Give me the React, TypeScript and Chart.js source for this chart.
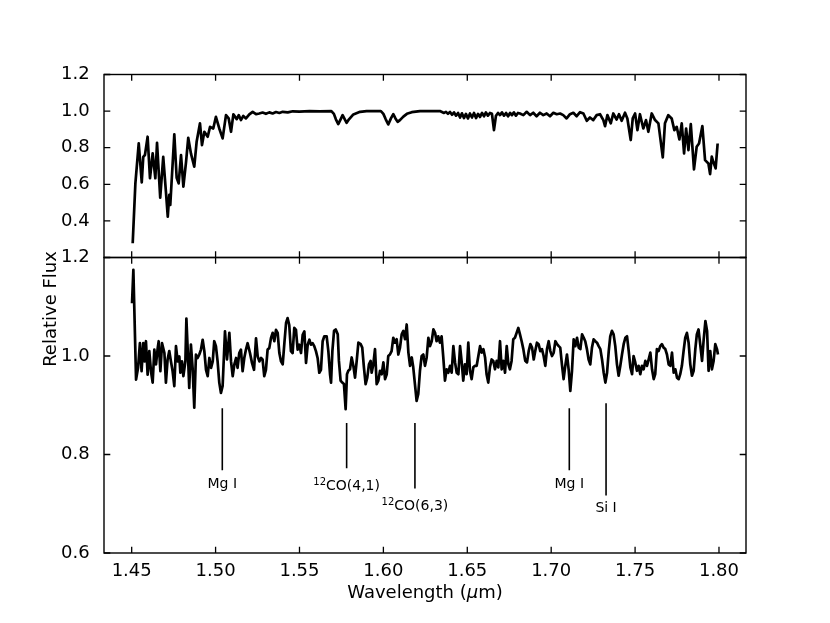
import React, { useEffect, useRef } from 'react';
import { Chart, registerables } from 'chart.js';

Chart.register(...registerables);

// ---------- data ----------
const topWave = [
  1.4506, 1.4522, 1.4542, 1.4560, 1.4569, 1.4579, 1.4595, 1.4609, 1.4625, 1.4641,
  1.4651, 1.4670, 1.4688, 1.4704, 1.4715, 1.4724, 1.4730, 1.4754, 1.4768, 1.4780,
  1.4794, 1.4808, 1.4824, 1.4837, 1.4853, 1.4873, 1.4887, 1.4907, 1.4919, 1.4933,
  1.4953, 1.4967, 1.4986, 1.5002, 1.5022, 1.5042, 1.5062, 1.5078, 1.5092, 1.5106,
  1.5126, 1.5138, 1.5151, 1.5165, 1.5181, 1.5201, 1.5221, 1.5241, 1.5260, 1.5280,
  1.5300, 1.5320, 1.5340, 1.5360, 1.5380, 1.5400, 1.5430, 1.5460, 1.5500, 1.5560,
  1.5620, 1.5690, 1.5705, 1.5717, 1.5731, 1.5745, 1.5757, 1.5770, 1.5781, 1.5795,
  1.5821, 1.5861, 1.5900, 1.5985, 1.6000, 1.6014, 1.6029, 1.6045, 1.6059, 1.6072,
  1.6085, 1.6100, 1.6119, 1.6140, 1.6169, 1.6218, 1.6337,
  1.6349, 1.6361, 1.6373, 1.6385, 1.6397, 1.6409, 1.6421, 1.6433, 1.6445, 1.6457,
  1.6468, 1.6480, 1.6492, 1.6504, 1.6516, 1.6528, 1.6540, 1.6552, 1.6564, 1.6576,
  1.6588, 1.6600, 1.6611, 1.6623, 1.6635, 1.6647, 1.6659, 1.6671, 1.6683, 1.6695,
  1.6707, 1.6719, 1.6731, 1.6743, 1.6755, 1.6766, 1.6778, 1.6790, 1.6802,
  1.6814, 1.6834, 1.6854, 1.6874, 1.6893, 1.6913, 1.6933, 1.6953, 1.6973, 1.6993,
  1.7013, 1.7033, 1.7053, 1.7072, 1.7092, 1.7112, 1.7132, 1.7152, 1.7172, 1.7192,
  1.7212, 1.7231, 1.7251, 1.7271, 1.7291, 1.7311, 1.7321, 1.7335, 1.7355, 1.7370,
  1.7390, 1.7404, 1.7420, 1.7440, 1.7454, 1.7474, 1.7486, 1.7500, 1.7514, 1.7529,
  1.7549, 1.7565, 1.7579, 1.7599, 1.7619, 1.7639, 1.7665, 1.7678, 1.7698, 1.7718,
  1.7734, 1.7748, 1.7764, 1.7778, 1.7792, 1.7804, 1.7818, 1.7832, 1.7851, 1.7867,
  1.7881, 1.7901, 1.7917, 1.7937, 1.7947, 1.7957, 1.7966, 1.7980, 1.7992,
];
const topFlux = [
  0.278, 0.605, 0.824, 0.611, 0.750, 0.760, 0.860, 0.633, 0.769, 0.633,
  0.827, 0.527, 0.750, 0.560, 0.423, 0.542, 0.487, 0.873, 0.636, 0.605,
  0.760, 0.587, 0.723, 0.854, 0.769, 0.696, 0.832, 0.933, 0.814, 0.887,
  0.860, 0.914, 0.905, 0.969, 0.905, 0.851, 0.978, 0.960, 0.887, 0.982,
  0.956, 0.978, 0.951, 0.974, 0.960, 0.982, 0.996, 0.983, 0.987, 0.992,
  0.985, 0.993, 0.987, 0.995, 0.990, 0.996, 0.993, 0.999, 0.997, 1.000,
  0.998, 1.000, 0.985, 0.955, 0.929, 0.955, 0.978, 0.955, 0.936, 0.955,
  0.982, 0.996, 1.000, 1.000, 0.985, 0.955, 0.927, 0.960, 0.983, 0.960,
  0.941, 0.952, 0.970, 0.985, 0.994, 1.000, 1.000,
  0.995, 0.990, 0.996, 0.985, 0.995, 0.980, 0.993, 0.975, 0.990, 0.965,
  0.988, 0.962, 0.985, 0.960, 0.987, 0.965, 0.990, 0.962, 0.985, 0.968,
  0.990, 0.972, 0.993, 0.975, 0.990, 0.985, 0.896, 0.975, 0.990, 0.978,
  0.993, 0.975, 0.990, 0.972, 0.990, 0.978, 0.993, 0.975, 0.990,
  0.987, 0.978, 0.996, 0.978, 0.991, 0.972, 0.991, 0.978, 0.987, 0.972,
  0.991, 0.983, 0.987, 0.978, 0.960, 0.983, 0.991, 0.972, 0.994, 0.987,
  0.947, 0.965, 0.951, 0.978, 0.983, 0.951, 0.918, 0.978, 0.933, 0.987,
  0.954, 0.983, 0.947, 0.991, 0.960, 0.842, 0.960, 0.987, 0.896, 0.983,
  0.905, 0.951, 0.887, 0.987, 0.951, 0.933, 0.747, 0.933, 0.978, 0.960,
  0.896, 0.914, 0.845, 0.933, 0.769, 0.905, 0.787, 0.929, 0.682, 0.805,
  0.823, 0.918, 0.732, 0.714, 0.656, 0.751, 0.723, 0.687, 0.823,
];

const botWave = [
  1.4502, 1.4510, 1.4526, 1.4538, 1.4549, 1.4559, 1.4569, 1.4577, 1.4585, 1.4595,
  1.4605, 1.4615, 1.4625, 1.4635, 1.4645, 1.4655, 1.4661, 1.4671, 1.4681, 1.4695,
  1.4704, 1.4714, 1.4724, 1.4734, 1.4744, 1.4754, 1.4764, 1.4774, 1.4784, 1.4790,
  1.4800, 1.4808, 1.4820, 1.4826, 1.4836, 1.4843, 1.4853, 1.4863, 1.4873, 1.4883,
  1.4893, 1.4903, 1.4913, 1.4923, 1.4933, 1.4943, 1.4953, 1.4963, 1.4973, 1.4983,
  1.4992, 1.5002, 1.5012, 1.5022, 1.5032, 1.5042, 1.5056, 1.5068, 1.5082, 1.5092,
  1.5102, 1.5112, 1.5122, 1.5131, 1.5141, 1.5151, 1.5161, 1.5171, 1.5181, 1.5191,
  1.5205, 1.5217, 1.5229, 1.5241, 1.5251, 1.5261, 1.5271, 1.5280, 1.5290, 1.5300,
  1.5310, 1.5320, 1.5330, 1.5340, 1.5350, 1.5360, 1.5370, 1.5380, 1.5390, 1.5400,
  1.5410, 1.5420, 1.5429, 1.5439, 1.5449, 1.5459, 1.5469, 1.5479, 1.5489, 1.5499,
  1.5509, 1.5519, 1.5529, 1.5539, 1.5549, 1.5559, 1.5568, 1.5578, 1.5588, 1.5598,
  1.5608, 1.5618, 1.5628, 1.5638, 1.5648,
  1.5662, 1.5672, 1.5682, 1.5688, 1.5696, 1.5706, 1.5716, 1.5728, 1.5735, 1.5745,
  1.5755, 1.5765, 1.5775, 1.5783, 1.5791, 1.5801, 1.5811, 1.5821, 1.5831, 1.5841,
  1.5851, 1.5865, 1.5874, 1.5884, 1.5894, 1.5904, 1.5914, 1.5924, 1.5930, 1.5940,
  1.5950, 1.5960, 1.5970, 1.5980, 1.5990, 1.6000, 1.6010, 1.6020, 1.6029, 1.6039,
  1.6049, 1.6059, 1.6069, 1.6079, 1.6089, 1.6099, 1.6109, 1.6119, 1.6129, 1.6139,
  1.6149, 1.6159, 1.6169, 1.6178, 1.6188, 1.6198, 1.6208, 1.6218, 1.6228, 1.6238,
  1.6248, 1.6258, 1.6268, 1.6278, 1.6288, 1.6298, 1.6308, 1.6317, 1.6327, 1.6337,
  1.6347, 1.6357, 1.6367, 1.6377, 1.6387, 1.6397, 1.6407, 1.6417, 1.6427, 1.6437,
  1.6447, 1.6457, 1.6466, 1.6476, 1.6486, 1.6496, 1.6506, 1.6516, 1.6526, 1.6536,
  1.6546, 1.6556, 1.6566, 1.6576, 1.6586, 1.6596, 1.6606, 1.6615, 1.6625, 1.6635,
  1.6645, 1.6655, 1.6665, 1.6675, 1.6685, 1.6695, 1.6705, 1.6715, 1.6725, 1.6735,
  1.6745, 1.6754, 1.6764, 1.6774, 1.6784, 1.6794, 1.6804, 1.6814, 1.6824, 1.6834,
  1.6844,
  1.6846, 1.6856, 1.6866, 1.6876, 1.6886, 1.6896, 1.6905, 1.6915, 1.6925, 1.6935,
  1.6945, 1.6955, 1.6965, 1.6975, 1.6985, 1.6995, 1.7005, 1.7015, 1.7025, 1.7035,
  1.7045, 1.7054, 1.7064, 1.7074, 1.7084, 1.7094, 1.7104, 1.7114, 1.7124, 1.7134,
  1.7144, 1.7154, 1.7164, 1.7174, 1.7184, 1.7194, 1.7203, 1.7213, 1.7223, 1.7233,
  1.7243, 1.7253, 1.7263, 1.7273, 1.7283, 1.7293, 1.7303, 1.7313, 1.7323, 1.7333,
  1.7343, 1.7352, 1.7362, 1.7372, 1.7382, 1.7392, 1.7402, 1.7412, 1.7422, 1.7432,
  1.7442, 1.7452, 1.7462, 1.7472, 1.7482, 1.7491, 1.7501, 1.7511, 1.7521, 1.7531,
  1.7541, 1.7551, 1.7561, 1.7571, 1.7581, 1.7591, 1.7601, 1.7611, 1.7620, 1.7630,
  1.7640, 1.7650, 1.7660, 1.7670, 1.7680, 1.7690, 1.7700, 1.7710, 1.7720, 1.7730,
  1.7740, 1.7750, 1.7760, 1.7769, 1.7779, 1.7789, 1.7799, 1.7809, 1.7819, 1.7829,
  1.7839, 1.7849, 1.7859, 1.7868, 1.7878, 1.7888, 1.7899, 1.7909, 1.7919, 1.7929,
  1.7938, 1.7948, 1.7958, 1.7968, 1.7978, 1.7988, 1.7994,
];
const botFlux = [
  1.107, 1.175, 0.952, 0.976, 1.026, 0.969, 1.026, 0.989, 1.030, 0.962,
  1.010, 0.969, 0.946, 1.013, 0.983, 1.016, 1.030, 0.969, 1.026, 1.006,
  0.946, 0.993, 1.010, 0.989, 0.969, 0.939, 1.020, 0.989, 0.999, 0.966,
  0.989, 0.959, 0.989, 1.076, 0.996, 0.935, 1.023, 0.976, 0.895, 1.003,
  0.996, 1.003, 1.013, 1.033, 1.010, 0.972, 0.959, 0.996, 0.976, 0.989,
  1.030, 1.020, 0.989, 0.946, 0.925, 0.939, 1.050, 0.993, 1.047, 0.989,
  0.959, 0.983, 0.996, 0.976, 1.006, 1.013, 0.969, 0.996, 1.013, 1.026,
  1.006, 0.986, 0.972, 1.036, 0.999, 0.989, 0.996, 0.993, 0.959, 0.972,
  1.013, 1.016, 1.036, 1.047, 1.030, 1.053, 1.047, 1.006, 0.989, 0.983,
  1.026, 1.067, 1.077, 1.063, 1.010, 1.006, 1.057, 1.053, 1.013, 1.023,
  1.006, 1.043, 1.050, 0.986, 1.023, 1.033, 1.023, 1.026, 1.020, 1.010,
  0.996, 0.966, 0.972, 1.030, 1.040,
  1.040, 1.010, 0.963, 0.946, 1.010, 1.051, 1.054, 1.044, 0.990, 0.950,
  0.946, 0.943, 0.892, 0.963, 0.970, 0.973, 0.997, 0.980, 0.956, 0.990,
  1.027, 1.024, 1.017, 0.977, 0.943, 0.956, 0.983, 0.990, 0.966, 0.983,
  1.014, 0.943, 0.950, 0.970, 0.963, 0.987, 0.953, 0.963, 1.000, 1.003,
  1.010, 1.037, 1.027, 1.034, 1.003, 1.017, 1.044, 1.051, 1.034, 1.064,
  1.007, 0.980, 0.997, 0.977, 0.943, 0.909, 0.923, 0.970, 1.000, 1.003,
  0.980, 0.997, 1.037, 1.020, 1.030, 1.054, 1.047, 1.030, 1.040, 1.027,
  1.040, 0.997, 0.950, 0.973, 0.966, 0.980, 0.966, 1.020, 0.987, 0.966,
  0.963, 1.020, 0.990, 0.950, 0.983, 0.963, 1.027, 0.970, 0.953, 0.977,
  0.980, 0.980, 1.000, 1.020, 1.007, 1.014, 0.997, 0.963, 0.946, 0.977,
  0.993, 0.990, 0.973, 0.990, 0.977, 1.030, 0.973, 0.990, 0.966, 1.020,
  0.983, 0.973, 0.990, 1.034, 1.037, 1.047, 1.057, 1.044, 1.030, 1.014,
  0.993,
  0.990, 0.987, 1.010, 1.024, 1.017, 0.993, 1.010, 1.027, 1.024, 1.010,
  1.014, 1.000, 0.980, 1.014, 1.030, 1.010, 1.000, 1.007, 1.030, 1.024,
  1.020, 1.017, 0.983, 0.953, 0.980, 1.003, 0.973, 0.929, 0.970, 1.034,
  1.020, 1.037, 1.017, 1.014, 1.044, 1.037, 1.030, 1.014, 0.993, 0.983,
  1.017, 1.034, 1.030, 1.027, 1.020, 1.014, 0.993, 0.966, 0.946, 0.966,
  1.010, 1.040, 1.051, 1.044, 1.020, 0.983, 0.960, 0.980, 1.003, 1.024,
  1.037, 1.040, 1.010, 0.977, 0.963, 1.000, 0.987, 0.970, 0.980, 0.963,
  0.980, 0.973, 0.990, 0.980, 0.993, 1.007, 0.973, 0.953, 0.963, 1.014,
  1.010, 1.020, 1.024, 1.017, 1.014, 1.003, 0.983, 0.980, 1.007, 0.966,
  0.973, 0.956, 0.953, 0.963, 0.980, 1.010, 1.037, 1.047, 1.027, 0.983,
  0.960, 0.970, 1.014, 1.044, 1.054, 1.024, 0.990, 1.034, 1.071, 1.051,
  0.970, 1.010, 0.973, 0.990, 1.024, 1.014, 1.003,
];

const xTicks = [1.45, 1.5, 1.55, 1.6, 1.65, 1.7, 1.75, 1.8];
const topYTicks = [0.4, 0.6, 0.8, 1.0, 1.2];
const botYTicks = [0.6, 0.8, 1.0, 1.2];

// spectral line identifications
const lineNames = ['Mg I', 'CO(4,1)', 'CO(6,3)', 'Mg I', 'Si I'];
const lineSups = ['', '12', '12', '', ''];
const lineWave = [1.5040, 1.5781, 1.6188, 1.7108, 1.7327];
const lineTop = [0.894, 0.864, 0.864, 0.894, 0.904];
const lineBottom = [0.768, 0.772, 0.731, 0.768, 0.717];
const labelFlux = [0.732, 0.727, 0.687, 0.732, 0.683];

const FAM = "'DejaVu Sans', sans-serif";

const framePlugin = {
  id: 'framePlugin',
  afterDraw(chart: any) {
    const ctx = chart.ctx;
    const { left, right } = chart.chartArea;
    const xs = chart.scales.x;
    const TL = 6.3;
    ctx.save();
    ctx.strokeStyle = '#000';
    const panels: any[] = [
      [chart.scales.yTop, topYTicks],
      [chart.scales.yBot, botYTicks],
    ];
    for (const [s, ticks] of panels) {
      ctx.lineWidth = 1.4;
      ctx.strokeRect(left, s.top, right - left, s.bottom - s.top);
      ctx.lineWidth = 1.3;
      ctx.beginPath();
      for (const v of ticks) {
        const py = s.getPixelForValue(v);
        ctx.moveTo(left, py);
        ctx.lineTo(left + TL, py);
        ctx.moveTo(right, py);
        ctx.lineTo(right - TL, py);
      }
      for (const v of xTicks) {
        const px = xs.getPixelForValue(v);
        ctx.moveTo(px, s.top);
        ctx.lineTo(px, s.top + TL);
        ctx.moveTo(px, s.bottom);
        ctx.lineTo(px, s.bottom - TL);
      }
      ctx.stroke();
    }

    // line identification labels
    const yb = chart.scales.yBot;
    ctx.fillStyle = '#000';
    ctx.textBaseline = 'alphabetic';
    ctx.textAlign = 'left';
    for (let i = 0; i < lineNames.length; i++) {
      const cx = xs.getPixelForValue(lineWave[i]);
      const by = yb.getPixelForValue(labelFlux[i]);
      ctx.font = `14px ${FAM}`;
      const mw = ctx.measureText(lineNames[i]).width;
      ctx.font = `10px ${FAM}`;
      const sw = lineSups[i] ? ctx.measureText(lineSups[i]).width : 0;
      const x0 = cx - (mw + sw) / 2;
      if (lineSups[i]) ctx.fillText(lineSups[i], x0, by - 5.5);
      ctx.font = `14px ${FAM}`;
      ctx.fillText(lineNames[i], x0 + sw, by);
    }

    // y axis label
    ctx.save();
    ctx.translate(51, 309);
    ctx.rotate(-Math.PI / 2);
    ctx.font = `18px ${FAM}`;
    ctx.textAlign = 'center';
    ctx.textBaseline = 'middle';
    ctx.fillText('Relative Flux', 0, 0);
    ctx.restore();

    // x axis label with italic mu
    const parts: [string, string][] = [
      ['Wavelength (', `18px ${FAM}`],
      ['\u03bc', `italic 18px ${FAM}`],
      ['m)', `18px ${FAM}`],
    ];
    let total = 0;
    const widths: number[] = [];
    for (const [t, f] of parts) {
      ctx.font = f;
      const w = ctx.measureText(t).width;
      widths.push(w);
      total += w;
    }
    let x = (left + right) / 2 - total / 2;
    parts.forEach(([t, f], i) => {
      ctx.font = f;
      ctx.fillText(t, x, 598);
      x += widths[i];
    });
    ctx.restore();
  },
};

export default function App() {
  const ref = useRef<HTMLCanvasElement>(null);
  useEffect(() => {
    const n1 = Math.min(topWave.length, topFlux.length);
    const n2 = Math.min(botWave.length, botFlux.length);
    const topData = topWave.slice(0, n1).map((w, i) => ({ x: w, y: topFlux[i] }));
    const botData = botWave.slice(0, n2).map((w, i) => ({ x: w, y: botFlux[i] }));
    const markerSets = lineWave.map((w, i) => ({
      data: [{ x: w, y: lineTop[i] }, { x: w, y: lineBottom[i] }],
      yAxisID: 'yBot',
      borderColor: '#000',
      borderWidth: 1.6,
      pointRadius: 0,
      tension: 0,
    }));
    const tickFont = { family: FAM, size: 18 };
    const chart = new Chart(ref.current as HTMLCanvasElement, {
      type: 'line',
      data: {
        datasets: [
          {
            data: topData,
            yAxisID: 'yTop',
            borderColor: '#000',
            borderWidth: 2.7,
            pointRadius: 0,
            tension: 0,
            borderJoinStyle: 'round',
          },
          {
            data: botData,
            yAxisID: 'yBot',
            borderColor: '#000',
            borderWidth: 2.7,
            pointRadius: 0,
            tension: 0,
            borderJoinStyle: 'round',
          },
          ...markerSets,
        ] as any,
      },
      options: {
        responsive: false,
        animation: false,
        events: [],
        layout: { padding: { left: 0, top: 74.5, right: 84, bottom: 0 } },
        plugins: { legend: { display: false }, tooltip: { enabled: false } },
        scales: {
          x: {
            type: 'linear',
            position: 'bottom',
            min: 1.4335,
            max: 1.8161,
            grid: { display: false },
            border: { display: false },
            afterBuildTicks: (s: any) => {
              s.ticks = xTicks.map((v) => ({ value: v }));
            },
            afterFit: (s: any) => {
              s.height = 70;
            },
            ticks: {
              color: '#000',
              font: tickFont,
              padding: 0,
              maxRotation: 0,
              autoSkip: false,
              callback: (v: any) => Number(v).toFixed(2),
            },
          },
          yBot: {
            type: 'linear',
            position: 'left',
            stack: 'panels',
            stackWeight: 295.5,
            min: 0.6,
            max: 1.2,
            grid: { display: false },
            border: { display: false },
            afterBuildTicks: (s: any) => {
              s.ticks = botYTicks.map((v) => ({ value: v }));
            },
            afterFit: (s: any) => {
              s.width = 104;
            },
            ticks: {
              color: '#000',
              font: tickFont,
              padding: 6.3,
              callback: (v: any) => Number(v).toFixed(1),
            },
          },
          yTop: {
            type: 'linear',
            position: 'left',
            stack: 'panels',
            stackWeight: 183,
            min: 0.2,
            max: 1.2,
            grid: { display: false },
            border: { display: false },
            afterBuildTicks: (s: any) => {
              s.ticks = topYTicks.map((v) => ({ value: v }));
            },
            afterFit: (s: any) => {
              s.width = 104;
            },
            ticks: {
              color: '#000',
              font: tickFont,
              padding: 6.3,
              callback: (v: any) => Number(v).toFixed(1),
            },
          },
        } as any,
      },
      plugins: [framePlugin],
    } as any);
    return () => chart.destroy();
  }, []);
  return (
    <div style={{ position: 'absolute', left: 0, top: 0, width: 830, height: 623, background: '#fff' }}>
      <canvas ref={ref} width={830} height={623} style={{ display: 'block', width: 830, height: 623 }} />
    </div>
  );
}
